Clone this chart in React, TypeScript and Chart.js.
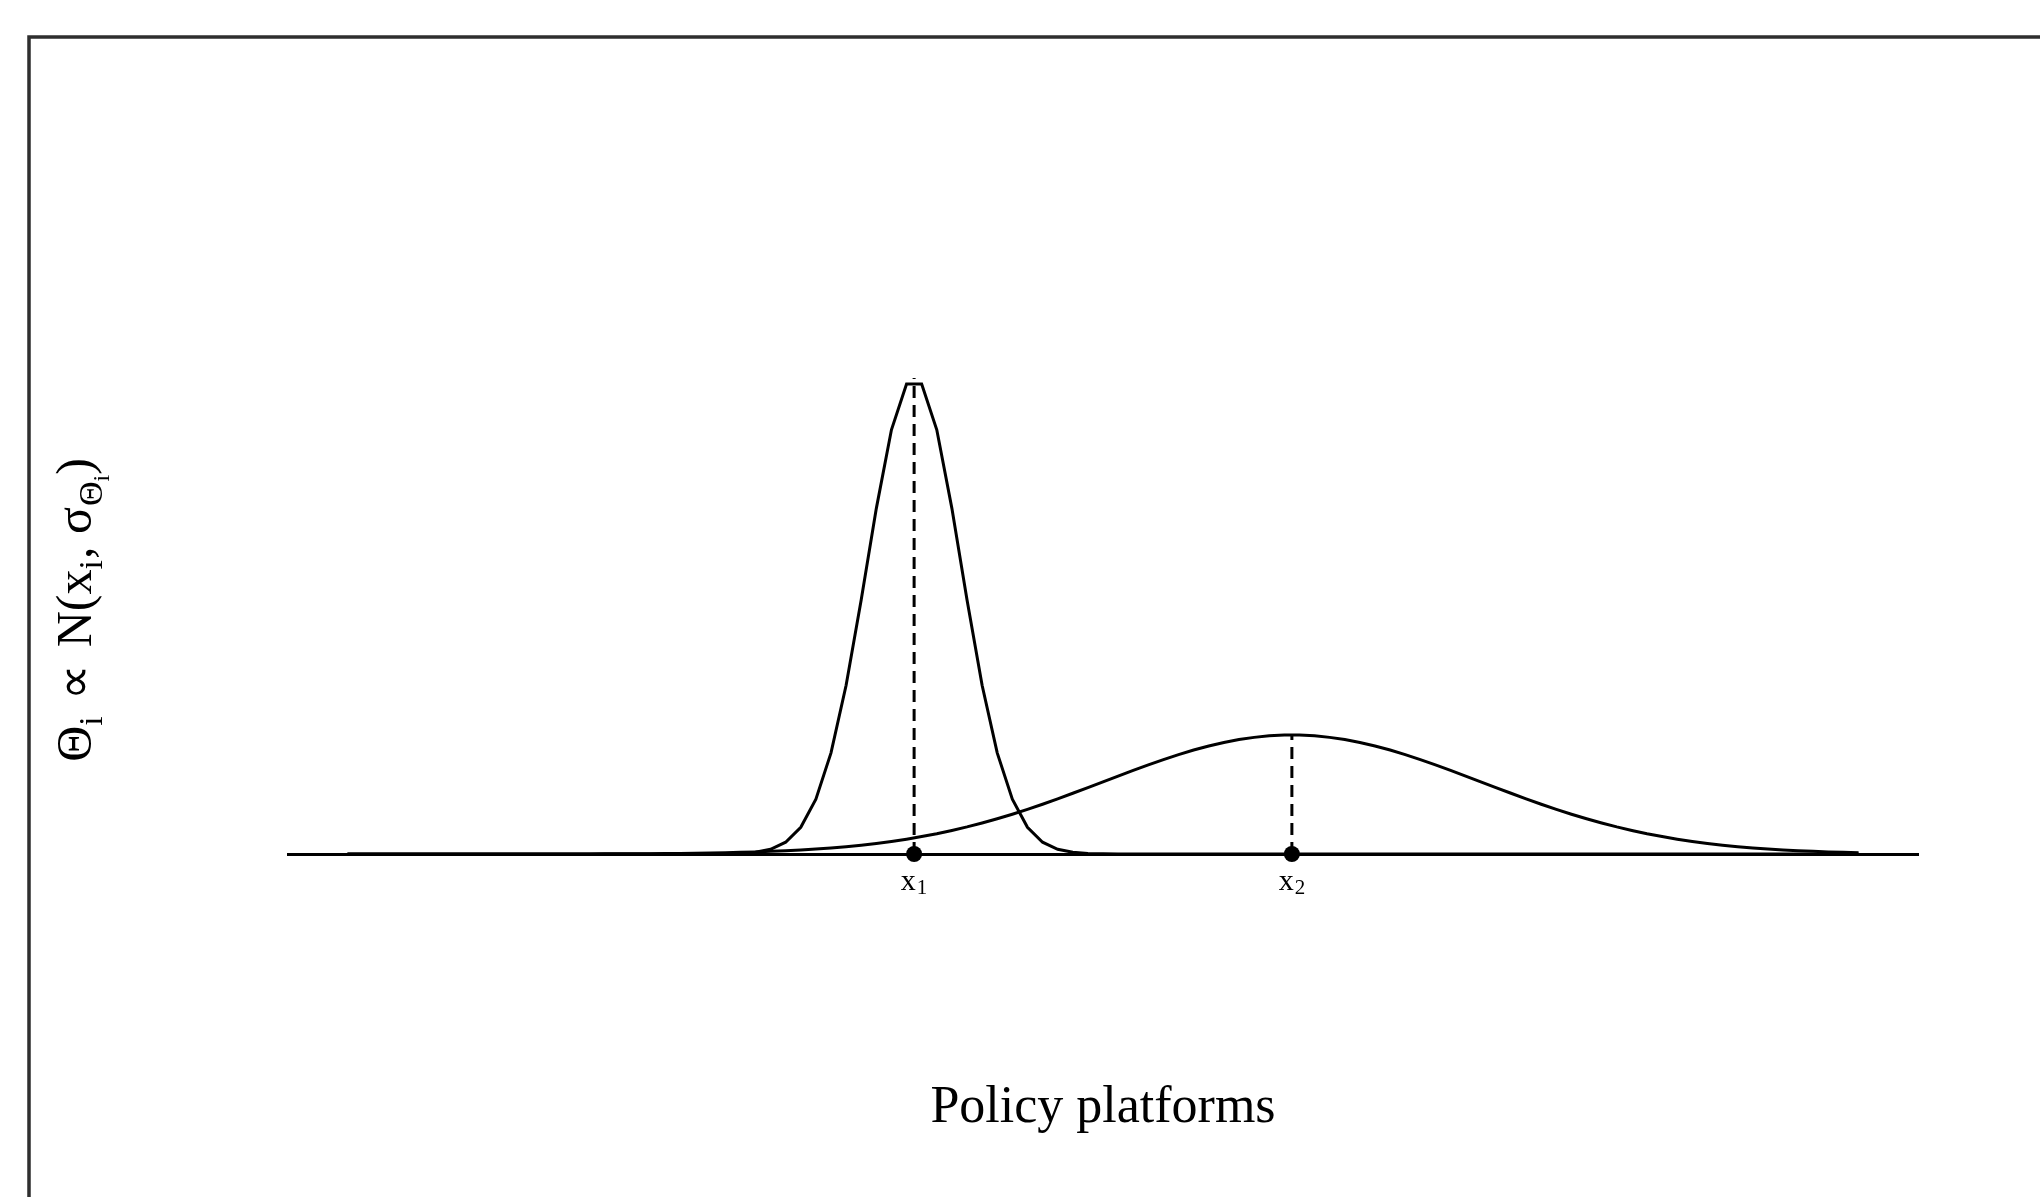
import React, { useEffect, useRef } from "react";
import { Chart, registerables } from "chart.js";

Chart.register(...registerables);

// Sample grid of policy positions (101 points, -4 … 4)
const xGrid = [
  -4.0, -3.92, -3.84, -3.76, -3.68, -3.6, -3.52, -3.44, -3.36, -3.28, -3.2, -3.12, -3.04, -2.96, -2.88, -2.8,
  -2.72, -2.64, -2.56, -2.48, -2.4, -2.32, -2.24, -2.16, -2.08, -2.0, -1.92, -1.84, -1.76, -1.68, -1.6, -1.52,
  -1.44, -1.36, -1.28, -1.2, -1.12, -1.04, -0.96, -0.88, -0.8, -0.72, -0.64, -0.56, -0.48, -0.4, -0.32, -0.24,
  -0.16, -0.08, 0.0, 0.08, 0.16, 0.24, 0.32, 0.4, 0.48, 0.56, 0.64, 0.72, 0.8, 0.88, 0.96, 1.04, 1.12, 1.2,
  1.28, 1.36, 1.44, 1.52, 1.6, 1.68, 1.76, 1.84, 1.92, 2.0, 2.08, 2.16, 2.24, 2.32, 2.4, 2.48, 2.56, 2.64,
  2.72, 2.8, 2.88, 2.96, 3.04, 3.12, 3.2, 3.28, 3.36, 3.44, 3.52, 3.6, 3.68, 3.76, 3.84, 3.92, 4.0,
];

// Density of candidate 1 (narrow)
const narrowDensity = [
  0, 0, 0, 0, 0, 0, 0, 0, 0, 0, 0, 0, 0, 0, 0, 0, 0, 0, 0, 0, 0, 0, 0, 0,
  0.0001, 0.0005, 0.0018, 0.0056, 0.0157, 0.0395, 0.0896, 0.1835, 0.3391, 0.5658, 0.8523, 1.1588, 1.4221,
  1.5755, 1.5755, 1.4221, 1.1588, 0.8523, 0.5658, 0.3391, 0.1835, 0.0896, 0.0395, 0.0157, 0.0056, 0.0018,
  0.0005, 0.0001,
  0, 0, 0, 0, 0, 0, 0, 0, 0, 0, 0, 0, 0, 0, 0, 0, 0, 0, 0, 0, 0, 0, 0, 0, 0, 0, 0, 0, 0, 0, 0, 0, 0, 0, 0, 0,
  0, 0, 0, 0, 0, 0, 0, 0, 0, 0, 0, 0, 0,
];

// Density of candidate 2 (wide)
const wideDensity = [
  0, 0, 0, 0, 0, 0, 0, 0, 0, 0, 0.0001, 0.0001, 0.0001, 0.0002, 0.0002, 0.0003, 0.0004, 0.0005, 0.0007,
  0.0009, 0.0012, 0.0016, 0.0021, 0.0027, 0.0035, 0.0044, 0.0056, 0.0071, 0.0089, 0.011, 0.0136, 0.0167,
  0.0203, 0.0246, 0.0297, 0.0355, 0.0422, 0.0498, 0.0584, 0.0681, 0.079, 0.0909, 0.104, 0.1182, 0.1334,
  0.1497, 0.1669, 0.1849, 0.2036, 0.2227, 0.242, 0.2613, 0.2803, 0.2989, 0.3166, 0.3332, 0.3485, 0.3621,
  0.3739, 0.3836, 0.391, 0.3961, 0.3986, 0.3986, 0.3961, 0.391, 0.3836, 0.3739, 0.3621, 0.3485, 0.3332,
  0.3166, 0.2989, 0.2803, 0.2613, 0.242, 0.2227, 0.2036, 0.1849, 0.1669, 0.1497, 0.1334, 0.1182, 0.104,
  0.0909, 0.079, 0.0681, 0.0584, 0.0498, 0.0422, 0.0355, 0.0297, 0.0246, 0.0203, 0.0167, 0.0136, 0.011,
  0.0089, 0.0071, 0.0056, 0.0044,
];

// Candidate platforms and the density at each mean
const platformPositions = [-1, 1];
const platformPeaks = [1.5958, 0.3989];
const platformLabelMain = ["x", "x"];
const platformLabelSub = ["1", "2"];

const xTitle = "Policy platforms";
// y label pieces and their level (0 = normal, 1 = subscript, 2 = sub-subscript)
const yLabelText = ["Θ", "i", " ∝ ", "N(x", "i", ", σ", "Θ", "i", ")"];
const yLabelLevel = [0, 1, 0, 0, 1, 0, 1, 2, 0];

const X_MIN = -4.32;
const X_MAX = 4.32;
const Y_MIN = -0.4894;
const Y_MAX = 2.5277;

const FONT = '"Liberation Serif", "Times New Roman", serif';

const decorPlugin = {
  id: "decor",
  beforeDraw(chart: any) {
    const ctx = chart.ctx;
    ctx.save();
    ctx.fillStyle = "#ffffff";
    ctx.fillRect(0, 0, chart.width, chart.height);
    ctx.strokeStyle = "#2e2e2e";
    ctx.lineWidth = 3.5;
    ctx.strokeRect(29, 37, 4000, 4000);
    ctx.restore();
  },
  afterDraw(chart: any) {
    const ctx = chart.ctx;
    const xs = chart.scales.x;
    const ys = chart.scales.y;
    ctx.save();
    ctx.fillStyle = "#000";
    ctx.textBaseline = "alphabetic";

    // platform labels x_1, x_2
    platformPositions.forEach((p, i) => {
      const px = xs.getPixelForValue(p);
      const base = ys.getPixelForValue(0) + 36;
      ctx.font = `30px ${FONT}`;
      const w1 = ctx.measureText(platformLabelMain[i]).width;
      ctx.font = `21px ${FONT}`;
      const w2 = ctx.measureText(platformLabelSub[i]).width;
      const start = px - (w1 + w2 + 1) / 2;
      ctx.textAlign = "left";
      ctx.font = `30px ${FONT}`;
      ctx.fillText(platformLabelMain[i], start, base);
      ctx.font = `21px ${FONT}`;
      ctx.fillText(platformLabelSub[i], start + w1 + 1, base + 4);
    });

    // x title
    ctx.font = `52px ${FONT}`;
    ctx.textAlign = "center";
    const cx = (chart.chartArea.left + chart.chartArea.right) / 2;
    ctx.fillText(xTitle, cx, 1122);

    // y label (rotated)
    const sizes = [50, 34, 24];
    const drops = [0, 11, 18];
    const extra = [0, 0, 8, 0, 0, 2, 0, 0, 0];
    let total = 0;
    const widths = yLabelText.map((t, i) => {
      ctx.font = `${sizes[yLabelLevel[i]]}px ${FONT}`;
      const w = ctx.measureText(t).width + extra[i];
      total += w;
      return w;
    });
    ctx.translate(91, 610);
    ctx.rotate(-Math.PI / 2);
    ctx.textAlign = "left";
    let pos = -total / 2;
    yLabelText.forEach((t, i) => {
      ctx.font = `${sizes[yLabelLevel[i]]}px ${FONT}`;
      ctx.fillText(t, pos + extra[i] / 2, drops[yLabelLevel[i]]);
      pos += widths[i];
    });
    ctx.restore();
  },
};

export default function App() {
  const ref = useRef<HTMLCanvasElement>(null);
  useEffect(() => {
    if (!ref.current) return;
    const lineStyle = {
      borderColor: "#000",
      borderWidth: 3,
      pointRadius: 0,
      tension: 0,
      fill: false,
    };
    const chart = new Chart(ref.current, {
      type: "line",
      data: {
        datasets: [
          {
            ...lineStyle,
            label: "platforms",
            data: platformPositions.map((p) => ({ x: p, y: 0 })),
            showLine: false,
            pointRadius: 8,
            pointBackgroundColor: "#000",
            pointBorderColor: "#000",
            pointBorderWidth: 0,
          } as any,
          ...platformPositions.map((p, i) => ({
            ...lineStyle,
            label: `mean ${i + 1}`,
            data: [
              { x: p, y: 0 },
              { x: p, y: platformPeaks[i] },
            ],
            borderDash: [12, 7],
          })),
          {
            ...lineStyle,
            label: "candidate 1",
            data: xGrid.map((x, i) => ({ x, y: narrowDensity[i] })),
          },
          {
            ...lineStyle,
            label: "candidate 2",
            data: xGrid.map((x, i) => ({ x, y: wideDensity[i] })),
          },
        ],
      },
      options: {
        animation: false,
        responsive: false,
        layout: { padding: { left: 287, right: 121, top: 100, bottom: 197 } },
        plugins: { legend: { display: false }, tooltip: { enabled: false } },
        scales: {
          x: { type: "linear", min: X_MIN, max: X_MAX, display: false },
          y: {
            type: "linear",
            min: Y_MIN,
            max: Y_MAX,
            display: true,
            afterFit: (s: any) => {
              s.width = 0;
            },
            afterBuildTicks: (s: any) => {
              s.ticks = [{ value: 0 }];
            },
            ticks: { display: false },
            grid: { color: "#000", lineWidth: 3, drawTicks: false },
            border: { display: false },
          },
        },
      },
      plugins: [decorPlugin],
    });
    return () => chart.destroy();
  }, []);
  return (
    <div style={{ position: "fixed", left: 0, top: 0, width: 2040, height: 1197, background: "#fff" }}>
      <canvas ref={ref} width={2040} height={1197} style={{ display: "block" }} />
    </div>
  );
}
